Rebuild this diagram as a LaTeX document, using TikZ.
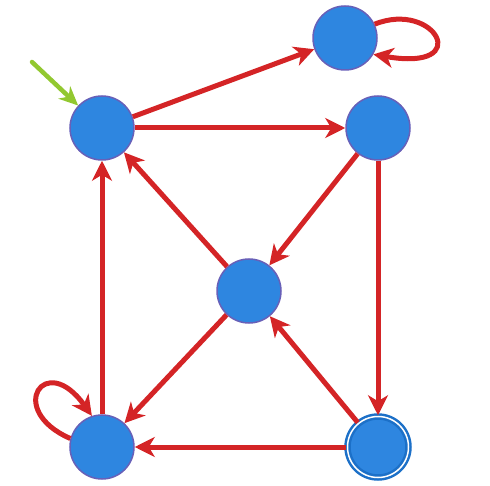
\documentclass[tikz,border=0pt]{standalone}
\usetikzlibrary{arrows.meta}
\definecolor{stfill}{RGB}{46,134,224}
\definecolor{stline}{RGB}{104,96,184}
\definecolor{accline}{RGB}{28,112,200}
\definecolor{edgered}{RGB}{212,36,38}
\definecolor{startgreen}{RGB}{146,200,48}
\tikzset{
  state/.style={circle,fill=stfill,draw=stline,line width=1.5pt,minimum size=64pt,inner sep=0pt},
  accepting/.style={circle,fill=stfill,draw=accline,double=white,double distance=1.5pt,line width=2.5pt,minimum size=61pt,inner sep=0pt},
  trans/.style={draw=edgered,line width=5pt,-{Stealth[length=20pt,width=20pt,inset=6pt]}},
  start/.style={draw=startgreen,line width=4.5pt,line cap=round,-{Stealth[length=19pt,width=17pt,inset=6pt]}}
}
\begin{document}
\begin{tikzpicture}[x=1pt,y=-1pt]
    \useasboundingbox (0,0) rectangle (490,486);% page size
    % states
    \node[state] (q0) at (102,128) {};
    \node[state] (q1) at (345,38) {};
    \node[state] (q2) at (378,128) {};
    \node[state] (q3) at (249,291) {};
    \node[state] (q4) at (102,447) {};
    \node[accepting] (q5) at (378,447) {};
    % initial arrow
    \coordinate (init) at (32,62);
    \draw[start] (init) -- (q0);
    % transitions
    \draw[trans] (q1.25) .. controls (435,0) and (475,72) .. (q1.-30);
    \draw[trans] (q0.20) -- (q1.200);
    \draw[trans] (q0) -- (q2);
    \draw[trans] (q2) -- (q3);
    \draw[trans] (q2) -- (q5);
    \draw[trans] (q3) -- (q0);
    \draw[trans] (q3) -- (q4);
    \draw[trans] (q5) -- (q3);
    \draw[trans] (q5) -- (q4);
    \draw[trans] (q4) -- (q0);
    \draw[trans] (q4.165) .. controls (5,410) and (45,350) .. (q4.108);
\end{tikzpicture}
\end{document}
